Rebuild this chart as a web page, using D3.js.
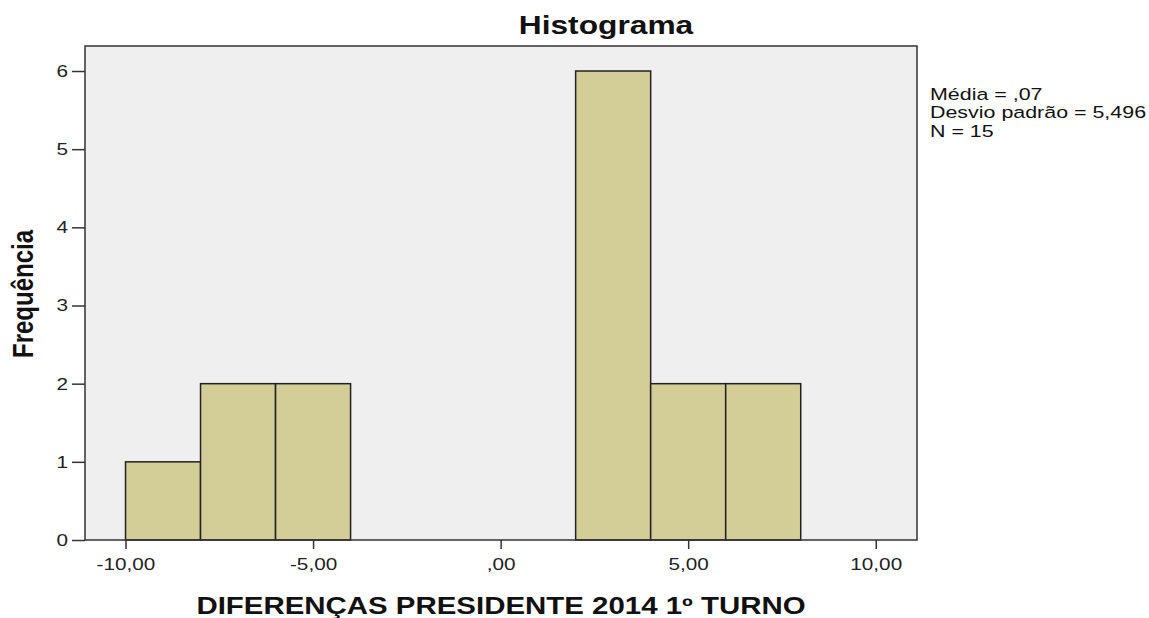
<!DOCTYPE html>
<html>
<head>
<meta charset="utf-8">
<script src="https://cdn.jsdelivr.net/npm/d3@7"></script>
<style>
  body { margin: 0; background: #fff; }
  svg { font-family: "Liberation Sans", Arial, sans-serif; }
</style>
</head>
<body>
<svg id="chart" width="1149" height="618"></svg>
<script>
// histogram bins (lower edge, upper edge) and counts
const binStarts = [-10, -8, -6, 2, 4, 6];
const binEnds = [-8, -6, -4, 4, 6, 8];
const counts = [1, 2, 2, 6, 2, 2];

const xTicks = [-10, -5, 0, 5, 10];
const xTickLabels = ['-10,00', '-5,00', ',00', '5,00', '10,00'];
const yTicks = [0, 1, 2, 3, 4, 5, 6];
const statsLines = ['Média = ,07', 'Desvio padrão = 5,496', 'N = 15'];

const svg = d3.select('#chart');
const plot = { left: 85, top: 46, right: 917, bottom: 540 };
// the source picture is a bit stretched sideways, so texts get widened too
const sx = 1.22;

const x = d3.scaleLinear().domain([-11.08, 11.1]).range([plot.left, plot.right]);
const y = d3.scaleLinear().domain([0, 6.32]).range([plot.bottom, plot.top]);

// plot background
svg.append('rect')
    .attr('x', plot.left)
    .attr('y', plot.top)
    .attr('width', plot.right - plot.left)
    .attr('height', plot.bottom - plot.top)
    .attr('fill', '#efefef');

// bars
const bins = binStarts.map((s, i) => ({ x0: s, x1: binEnds[i], n: counts[i] }));
svg.selectAll('rect.bar')
    .data(bins)
    .enter()
    .append('rect')
    .attr('class', 'bar')
    .attr('x', d => x(d.x0))
    .attr('y', d => y(d.n))
    .attr('width', d => x(d.x1) - x(d.x0))
    .attr('height', d => y(0) - y(d.n))
    .attr('fill', '#d3cd97')
    .attr('stroke', '#222')
    .attr('stroke-width', 1.5);

// frame
svg.append('rect')
    .attr('x', plot.left)
    .attr('y', plot.top)
    .attr('width', plot.right - plot.left)
    .attr('height', plot.bottom - plot.top)
    .attr('fill', 'none')
    .attr('stroke', '#333')
    .attr('stroke-width', 1.5);

// x axis
const xAxis = svg.append('g')
    .attr('transform', `translate(0,${plot.bottom})`)
    .call(d3.axisBottom(x)
        .tickValues(xTicks)
        .tickFormat((d, i) => xTickLabels[i])
        .tickSize(9)
        .tickPadding(9));
xAxis.select('.domain').remove();
xAxis.selectAll('line').attr('stroke', '#333').attr('stroke-width', 1.5);
xAxis.selectAll('text')
    .attr('font-size', 17)
    .attr('fill', '#222')
    .attr('font-family', '"Liberation Sans", Arial, sans-serif')
    .attr('transform', `scale(${sx},1)`);

// y axis
const yAxis = svg.append('g')
    .attr('transform', `translate(${plot.left},0)`)
    .call(d3.axisLeft(y)
        .tickValues(yTicks)
        .tickFormat(d3.format('d'))
        .tickSize(13)
        .tickPadding(4));
yAxis.select('.domain').remove();
yAxis.selectAll('line').attr('stroke', '#333').attr('stroke-width', 1.5);
yAxis.selectAll('text')
    .attr('font-size', 17)
    .attr('fill', '#222')
    .attr('font-family', '"Liberation Sans", Arial, sans-serif')
    .attr('x', -17 / sx)
    .attr('transform', `scale(${sx},1)`);

// title
svg.append('text')
    .attr('transform', `translate(606,34) scale(${sx},1)`)
    .attr('text-anchor', 'middle')
    .attr('font-size', 26)
    .attr('font-weight', 'bold')
    .attr('fill', '#111')
    .text('Histograma');

// x axis title
svg.append('text')
    .attr('transform', `translate(501,614) scale(1.28,1)`)
    .attr('text-anchor', 'middle')
    .attr('font-size', 23)
    .attr('font-weight', 'bold')
    .attr('fill', '#111')
    .text('DIFERENÇAS PRESIDENTE 2014 1º TURNO');

// y axis title
svg.append('text')
    .attr('transform', `translate(33,294) scale(1.2,1) rotate(-90)`)
    .attr('text-anchor', 'middle')
    .attr('font-size', 24)
    .attr('font-weight', 'bold')
    .attr('fill', '#111')
    .text('Frequência');

// stats
svg.append('g')
    .selectAll('text')
    .data(statsLines)
    .enter()
    .append('text')
    .attr('transform', (d, i) => `translate(930,${100 + i * 18.3}) scale(1.26,1)`)
    .attr('font-size', 17)
    .attr('fill', '#111')
    .text(d => d);
</script>
</body>
</html>
